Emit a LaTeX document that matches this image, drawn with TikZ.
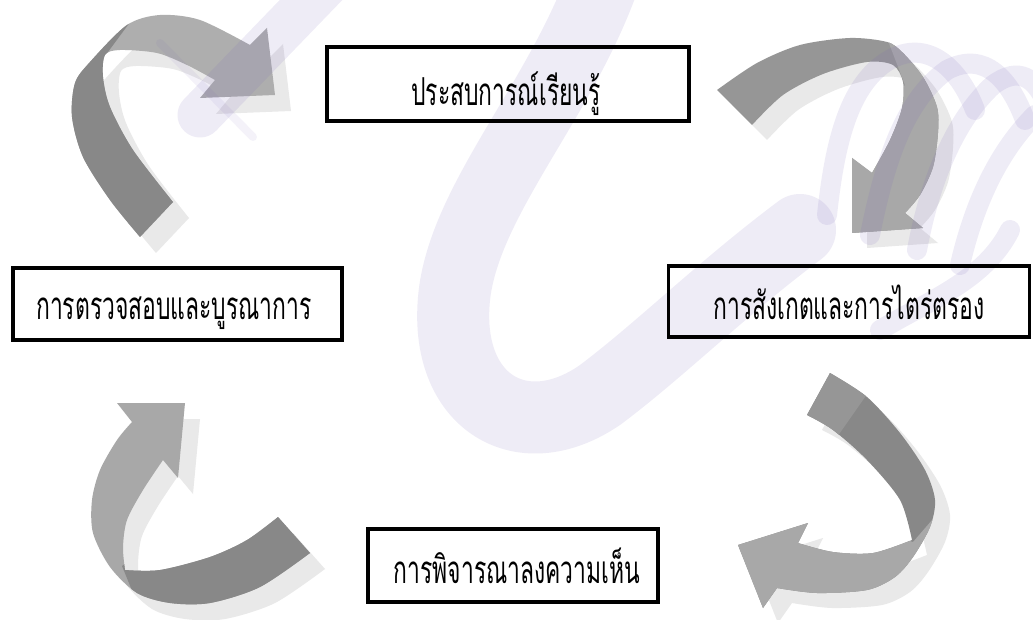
\documentclass[tikz,border=0pt]{standalone}
\usepackage{fontspec}
\usepackage{graphicx}
\newfontfamily\thaifont[Script=Thai]{Loma}
\definecolor{shad}{RGB}{233,233,233}
\definecolor{dk}{RGB}{136,136,136}
\definecolor{lt}{RGB}{168,168,168}
\definecolor{md}{RGB}{150,150,150}
\definecolor{tlt}{RGB}{174,174,174}
\definecolor{wm}{RGB}{120,100,185}
\def\arrowTL{plot[smooth] coordinates {(140,237) (110,200) (83,157) (72,117) (75,83) (90,62) (127,25) (160,15) (200,20) (250,45)} -- (267,28) -- (275,95) -- (200,98) -- (215,80) -- plot[smooth] coordinates {(215,80) (187,65) (157,53) (120,50) (105,55) (103,77) (110,107) (133,150) (173,202)} -- cycle}
\def\arrowTR{plot[smooth] coordinates {(717,90) (757,63) (800,45) (850,38) (887,42) (903,53) (923,77) (937,107) (938,133) (933,167) (920,195) (905,213)} -- (923,228) -- (852,233) -- (852,158) -- (872,173) -- plot[smooth] coordinates {(872,173) (890,140) (902,108) (903,82) (893,65) (867,62) (823,74) (783,95) (752,125)} -- cycle}
\def\arrowBR{plot[smooth] coordinates {(830,373) (867,397) (900,433) (925,470) (935,500) (930,527) (913,557) (895,577) (867,590) (817,593) (777,588)} -- (763,608) -- (738,545) -- (808,523) -- (798,543) -- plot[smooth] coordinates {(798,543) (833,552) (873,553) (912,540)} -- plot[smooth] coordinates {(912,540) (900,500) (867,460) (833,430) (807,415)} -- cycle}
\def\arrowBL{plot[smooth] coordinates {(310,553) (260,587) (210,603) (170,603) (137,593) (110,567) (93,533) (92,500) (100,470) (117,440) (132,422)} -- (117,403) -- (185,403) -- (178,478) -- (163,460) -- plot[smooth] coordinates {(163,460) (143,490) (127,520) (123,547) (125,570)} -- plot[smooth] coordinates {(125,570) (160,570) (210,557) (247,540) (278,517)} -- cycle}
\tikzset{
  boxnode/.style={draw=black, line width=3.2pt, inner sep=0pt},
  lbl/.style={font=\thaifont\fontsize{22}{26}\selectfont, inner sep=0pt, anchor=base},
  wmband/.style={draw=wm, draw opacity=0.12, line cap=round},
}
\begin{document}
\begin{tikzpicture}[x=1pt,y=-1pt]
\useasboundingbox (0,0) rectangle (1033,620);
\fill[white] (0,0) rectangle (1033,620);
% shadows
\fill[shad, shift={(16,16)}] \arrowTL;
\fill[shad, shift={(15,15)}] \arrowTR;
\fill[shad, shift={(15,15)}] \arrowBR;
\fill[shad, shift={(15,16)}] \arrowBL;
% top-left arrow
\fill[tlt] \arrowTL;
\begin{scope}
  \clip \arrowTL;
  \fill[dk] (105,56) -- (142,6) -- (0,0) -- (0,300) -- (220,300) -- (220,170) -- cycle;
\end{scope}
% top-right arrow
\fill[md] \arrowTR;
\begin{scope}
  \clip \arrowTR;
  \fill[lt] (880,20) -- (905,85) -- (840,150) -- (840,300) -- (1000,300) -- (1000,0) -- cycle;
\end{scope}
% bottom-right arrow
\fill[dk] \arrowBR;
\begin{scope}
  \clip \arrowBR;
  \fill[lt] (913,542) -- (945,505) -- (1000,505) -- (1000,700) -- (700,700) -- (700,500) -- (830,500) -- (890,535) -- cycle;
  \fill[md] (800,360) -- (870,390) -- (835,440) -- (790,420) -- cycle;
\end{scope}
% bottom-left arrow
\fill[lt] \arrowBL;
\begin{scope}
  \clip \arrowBL;
  \fill[dk] (122,566) -- (140,610) -- (400,620) -- (400,480) -- (200,540) -- (130,560) -- cycle;
\end{scope}
% watermark
\begin{scope}
  \clip (0,0) rectangle (1033,620);
  \draw[wmband, line width=72pt] (610,-40) .. controls (570,90) and (470,190) .. (455,290) .. controls (440,400) and (520,450) .. (600,395) .. controls (660,350) and (720,290) .. (800,230);
  \draw[wmband, line width=45pt] (340,-30) -- (200,115);
  \draw[wmband, draw opacity=0.08, line width=8pt] (160,43) -- (253,137);
  \draw[wmband, line width=20pt] (827,215) .. controls (835,140) and (850,80) .. (893,58) .. controls (930,40) and (960,70) .. (975,110);
  \draw[wmband, line width=20pt] (870,235) .. controls (885,160) and (905,100) .. (947,70) .. controls (985,50) and (1010,80) .. (1025,120);
  \draw[wmband, line width=20pt] (917,250) .. controls (930,180) and (955,120) .. (993,85) .. controls (1020,65) and (1035,80) .. (1045,100);
  \draw[wmband, line width=20pt] (960,265) .. controls (975,200) and (1000,150) .. (1035,115);
  \draw[wmband, line width=20pt] (880,330) .. controls (930,300) and (985,280) .. (1010,230);
\end{scope}
% boxes
\node[boxnode, minimum width=362pt, minimum height=74pt] (b1) at (508,84) {};
\node[boxnode, minimum width=329pt, minimum height=72pt] (b2) at (177.5,304) {};
\node[boxnode, minimum width=361pt, minimum height=71pt] (b3) at (849,301.5) {};
\node[boxnode, minimum width=290pt, minimum height=73pt] (b4) at (513,565.5) {};
% labels
\node[lbl] (t1) at (506,106) {\scalebox{1.04}[1.75]{ประสบการณ์เรียนรู้}};
\node[lbl] (t2) at (174,319) {\scalebox{1.04}[1.75]{การตรวจสอบและบูรณาการ}};
\node[lbl] (t3) at (849,319) {\scalebox{1.04}[1.75]{การสังเกตและการไตร่ตรอง}};
\node[lbl] (t4) at (517,583) {\scalebox{1.04}[1.75]{การพิจารณาลงความเห็น}};
\end{tikzpicture}
\end{document}
